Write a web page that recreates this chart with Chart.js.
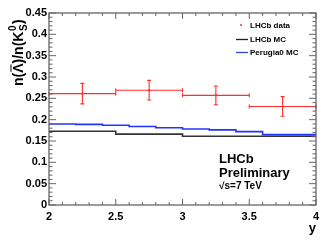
<!DOCTYPE html>
<html>
<head>
<meta charset="utf-8">
<script src="https://cdn.jsdelivr.net/npm/chart.js@4"></script>
<style>
  body { margin: 0; background: #fff; }
  canvas { display: block; }
</style>
</head>
<body>
<canvas id="ratioChart" width="332" height="249"></canvas>
<script>
// Data
const dataEdges = [2, 2.5, 3, 3.5, 4];
const dataValues = [0.261, 0.269, 0.257, 0.231];
const dataErrors = [0.024, 0.023, 0.022, 0.023];

const lhcbMcEdges = [2, 2.5, 3, 3.5, 4];
const lhcbMcValues = [0.171, 0.173, 0.166, 0.161];

const perugiaEdges = [2, 2.2, 2.4, 2.6, 2.8, 3, 3.2, 3.4, 3.6, 3.8, 4];
const perugiaValues = [0.191, 0.190, 0.189, 0.187, 0.184, 0.181, 0.178, 0.176, 0.172, 0.165];

const xTicks = [2, 2.5, 3, 3.5, 4];
const yTicks = [0, 0.05, 0.1, 0.15, 0.2, 0.25, 0.3, 0.35, 0.4, 0.45];

const FONT = "'Liberation Sans', Arial, Helvetica, sans-serif";
const RED = "rgb(255, 45, 45)";

// histogram -> step points (last value repeated at the upper edge)
function histPoints(edges, values) {
    const pts = edges.slice(0, -1).map((e, i) => ({ x: e, y: values[i] }));
    pts.push({ x: edges[edges.length - 1], y: values[values.length - 1] });
    return pts;
}

const dataPoints = dataValues.map((v, i) => ({
    x: (dataEdges[i] + dataEdges[i + 1]) / 2,
    y: v,
    lo: dataEdges[i],
    hi: dataEdges[i + 1],
    err: dataErrors[i]
}));

// error bars for the data points
const errorBars = {
    id: "errorBars",
    afterDatasetsDraw(chart) {
        const { ctx, scales: { x, y } } = chart;
        ctx.save();
        ctx.strokeStyle = RED;
        ctx.lineWidth = 1.1;
        dataPoints.forEach(p => {
            const px = x.getPixelForValue(p.x);
            const py = y.getPixelForValue(p.y);
            const x0 = x.getPixelForValue(p.lo);
            const x1 = x.getPixelForValue(p.hi);
            const yTop = y.getPixelForValue(p.y + p.err);
            const yBot = y.getPixelForValue(p.y - p.err);
            ctx.beginPath();
            ctx.moveTo(x0, py); ctx.lineTo(x1, py);
            ctx.moveTo(x0, py - 2); ctx.lineTo(x0, py + 2);
            ctx.moveTo(x1, py - 2); ctx.lineTo(x1, py + 2);
            ctx.moveTo(px, yTop); ctx.lineTo(px, yBot);
            ctx.moveTo(px - 2, yTop); ctx.lineTo(px + 2, yTop);
            ctx.moveTo(px - 2, yBot); ctx.lineTo(px + 2, yBot);
            ctx.stroke();
        });
        ctx.restore();
    }
};

// ROOT style frame with inward ticks on all four sides
const rootFrame = {
    id: "rootFrame",
    afterDraw(chart) {
        const { ctx, chartArea: a, scales: { x, y } } = chart;
        ctx.save();
        ctx.strokeStyle = "#666";
        ctx.lineWidth = 1.3;
        ctx.strokeRect(a.left, a.top, a.right - a.left, a.bottom - a.top);
        ctx.lineWidth = 1;
        ctx.beginPath();
        for (let i = 0; i <= 20; i++) {
            const px = x.getPixelForValue(2 + i * 0.1);
            const len = i % 5 === 0 ? 6 : 3;
            ctx.moveTo(px, a.bottom); ctx.lineTo(px, a.bottom - len);
            ctx.moveTo(px, a.top); ctx.lineTo(px, a.top + len);
        }
        for (let i = 0; i <= 45; i++) {
            const py = y.getPixelForValue(i * 0.01);
            const len = i % 5 === 0 ? 7 : 3.5;
            ctx.moveTo(a.left, py); ctx.lineTo(a.left + len, py);
            ctx.moveTo(a.right, py); ctx.lineTo(a.right - len, py);
        }
        ctx.stroke();
        ctx.restore();
    }
};

// legend, labels and axis titles
const annotations = {
    id: "annotations",
    afterDraw(chart) {
        const { ctx } = chart;
        ctx.save();
        ctx.fillStyle = "#000";
        ctx.textBaseline = "middle";
        ctx.font = "bold 8px " + FONT;

        // legend
        ctx.fillStyle = RED;
        ctx.beginPath();
        ctx.arc(241, 25, 1, 0, Math.PI * 2);
        ctx.fill();
        ctx.fillStyle = "#000";
        ctx.fillText("LHCb data", 250, 25.5);
        ctx.strokeStyle = "#222";
        ctx.lineWidth = 1.3;
        ctx.beginPath(); ctx.moveTo(236, 39.5); ctx.lineTo(248, 39.5); ctx.stroke();
        ctx.fillText("LHCb MC", 250, 40);
        ctx.strokeStyle = "#3344ff";
        ctx.beginPath(); ctx.moveTo(236, 52.5); ctx.lineTo(248, 52.5); ctx.stroke();
        ctx.fillText("Perugia0 MC", 250, 53);

        // LHCb Preliminary
        ctx.textBaseline = "alphabetic";
        ctx.font = "bold 13px " + FONT;
        ctx.fillText("LHCb", 219, 163);
        ctx.fillText("Preliminary", 219, 177);
        ctx.font = "bold 10px " + FONT;
        ctx.fillText("\u221As=7 TeV", 219, 189);

        // x title
        ctx.font = "bold 13px " + FONT;
        ctx.textAlign = "right";
        ctx.fillText("y", 316, 232);

        // y title: n(Lambda-bar)/n(K0S)
        ctx.textAlign = "left";
        ctx.translate(23, 86);
        ctx.rotate(-Math.PI / 2);
        ctx.font = "bold 14px " + FONT;
        let cx = 0;
        ctx.fillText("n(", cx, 0);
        cx += ctx.measureText("n(").width;
        const lw = ctx.measureText("\u039B").width;
        ctx.fillText("\u039B", cx, 0);
        ctx.strokeStyle = "#000";
        ctx.lineWidth = 1;
        ctx.beginPath(); ctx.moveTo(cx + 1, -12); ctx.lineTo(cx + lw - 1, -12); ctx.stroke();
        cx += lw;
        ctx.fillText(")/n(K", cx, 0);
        cx += ctx.measureText(")/n(K").width;
        ctx.font = "bold 10px " + FONT;
        ctx.fillText("0", cx + 0.5, -7);
        ctx.fillText("S", cx + 0.5, 4);
        cx += Math.max(ctx.measureText("0").width, ctx.measureText("S").width) + 1;
        ctx.font = "bold 14px " + FONT;
        ctx.fillText(")", cx, 0);
        ctx.restore();
    }
};

const config = {
    type: "line",
    data: {
        datasets: [
            {
                label: "LHCb data",
                type: "scatter",
                data: dataPoints,
                backgroundColor: RED,
                borderColor: RED,
                pointRadius: 0.8,
                order: 0
            },
            {
                label: "LHCb MC",
                data: histPoints(lhcbMcEdges, lhcbMcValues),
                borderColor: "#333",
                borderWidth: 1.6,
                stepped: "after",
                pointRadius: 0,
                fill: false
            },
            {
                label: "Perugia0 MC",
                data: histPoints(perugiaEdges, perugiaValues),
                borderColor: "#2233ff",
                borderWidth: 1.6,
                stepped: "after",
                pointRadius: 0,
                fill: false
            }
        ]
    },
    options: {
        responsive: false,
        animation: false,
        devicePixelRatio: 1,
        layout: { padding: { top: 13, right: 16, left: 0, bottom: 0 } },
        plugins: { legend: { display: false }, tooltip: { enabled: false } },
        scales: {
            x: {
                type: "linear",
                min: 2,
                max: 4,
                afterBuildTicks: scale => { scale.ticks = xTicks.map(v => ({ value: v })); },
                afterFit: scale => { scale.height = 44; },
                grid: { display: false, drawTicks: false },
                border: { display: false },
                ticks: {
                    color: "#000",
                    padding: 5,
                    maxRotation: 0,
                    font: { family: FONT, size: 11, weight: "bold" },
                    callback: v => String(v)
                }
            },
            y: {
                min: 0,
                max: 0.45,
                afterBuildTicks: scale => { scale.ticks = yTicks.map(v => ({ value: v })); },
                afterFit: scale => { scale.width = 49; },
                grid: { display: false, drawTicks: false },
                border: { display: false },
                ticks: {
                    color: "#000",
                    padding: 2,
                    font: { family: FONT, size: 11, weight: "bold" },
                    callback: v => String(Number(v.toFixed(2)))
                }
            }
        }
    },
    plugins: [errorBars, rootFrame, annotations]
};

new Chart(document.getElementById("ratioChart"), config);
</script>
</body>
</html>
